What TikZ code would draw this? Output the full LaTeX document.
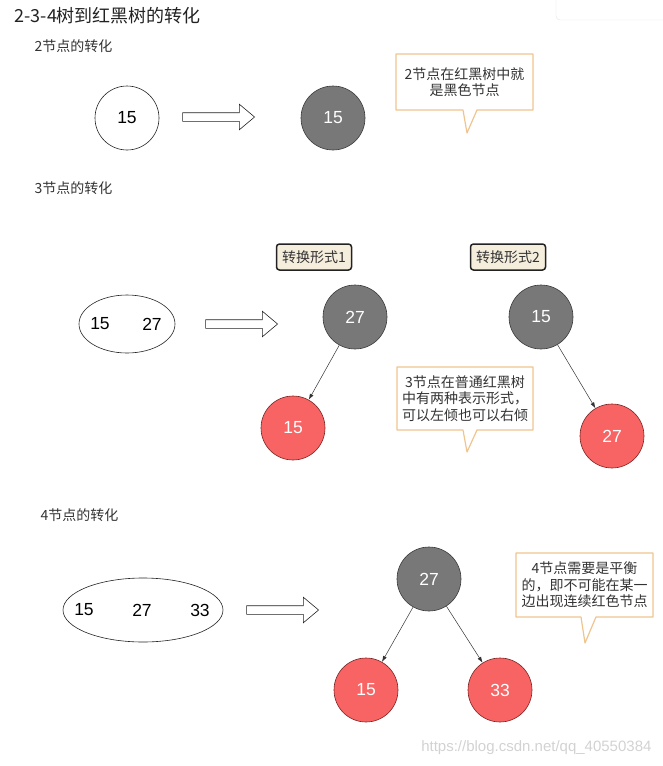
\documentclass[tikz,border=0pt]{standalone}
\usepackage{fontspec}
\setmainfont{Liberation Sans}
\newfontfamily\cjk{Noto Sans CJK SC}
\usetikzlibrary{positioning,shapes.geometric,shapes.arrows,arrows.meta}
\definecolor{ink}{HTML}{222222}
\definecolor{softink}{HTML}{333333}
\definecolor{blackfill}{HTML}{787878}
\definecolor{blackrim}{HTML}{3A3A3A}
\definecolor{redfill}{HTML}{F86363}
\definecolor{redrim}{HTML}{7A2424}
\definecolor{notebrd}{HTML}{F0C48E}
\definecolor{tagfill}{HTML}{F6EEDD}
\tikzset{
  keynode/.style={circle,draw=ink,line width=0.6pt,minimum size=64pt,inner sep=0pt,font=\fontsize{17.5}{20}\selectfont},
  blacknode/.style={keynode,draw=blackrim,fill=blackfill,text=white},
  rednode/.style={keynode,draw=redrim,fill=redfill,text=white},
  fatarrow/.style={single arrow,draw=ink,line width=0.6pt,minimum height=72pt,
    inner xsep=0pt,inner ysep=4pt,single arrow head extend=8.5pt,single arrow tip angle=80},
  link/.style={-{Latex[length=6pt,width=4pt]},draw=softink,line width=0.5pt},
  callout/.style={draw=notebrd,line width=1.2pt,fill=white,line join=round},
  notetext/.style={font=\cjk\fontsize{14}{16.5}\selectfont,text=softink,align=center},
  tagbox/.style={draw=ink,line width=1.5pt,fill=tagfill,rounded corners=3pt,minimum width=75pt,minimum height=26pt,
    font=\cjk\fontsize{14}{16}\selectfont,text=softink},
  heading/.style={anchor=west,font=\cjk\fontsize{14}{16}\selectfont,text=softink}
}
\begin{document}
\begin{tikzpicture}[x=1pt,y=-1pt]
  \useasboundingbox (0,0) rectangle (663,766);
  % browser popup cut off at the corner
  \draw[gray!20,fill=white,rounded corners=4pt] (556,-8) rectangle (672,20);
  % title
  \node[anchor=west,font=\cjk\fontsize{18}{20}\selectfont,text=ink] (title) at (11,16) {2-3-4树到红黑树的转化};
  % 2 node
  \node[heading] (headtwo) at (31,46) {2节点的转化};
  \node[keynode] (twokey) at (127,118) {15};
  \node[fatarrow] (twoarrow) at (216,117) {};
  \node[blacknode] (twoblack) at (333,118) {15};
  \draw[callout] (396,54) -- (533,54) -- (533,110) -- (477,110) -- (467,133) -- (463,110) -- (396,110) -- cycle;
  \node[notetext] (twonote) at (464.5,82) {2节点在红黑树中就\\是黑色节点};
  % 3 node
  \node[heading] (headthree) at (31,188) {3节点的转化};
  \node[ellipse,draw=ink,line width=0.6pt,minimum width=96pt,minimum height=58pt] (threekey) at (127,324) {};
  \node[font=\fontsize{17.5}{20}\selectfont] (threea) at (100,324) {15};
  \node[font=\fontsize{17.5}{20}\selectfont] (threeb) at (152,324) {27};
  \node[fatarrow] (threearrow) at (239,324) {};
  \node[tagbox] (formone) at (314,257) {转换形式1};
  \node[tagbox] (formtwo) at (508,257) {转换形式2};
  \node[blacknode] (leftroot) at (355,317) {27};
  \node[rednode] (leftchild) at (293,428) {15};
  \draw[link] (leftroot) -- (leftchild);
  \node[blacknode] (rightroot) at (541,317) {15};
  \node[rednode] (rightchild) at (612,436) {27};
  \draw[link] (rightroot) -- (rightchild);
  \draw[callout] (397,367) -- (533,367) -- (533,430) -- (477,430) -- (467,452) -- (463,430) -- (397,430) -- cycle;
  \node[notetext] (threenote) at (465,398.5) {3节点在普通红黑树\\中有两种表示形式，\\可以左倾也可以右倾};
  % 4 node
  \node[heading] (headfour) at (37,515) {4节点的转化};
  \node[ellipse,draw=ink,line width=0.6pt,minimum width=160pt,minimum height=64pt] (fourkey) at (143,610) {};
  \node[font=\fontsize{17.5}{20}\selectfont] (foura) at (84,610) {15};
  \node[font=\fontsize{17.5}{20}\selectfont] (fourb) at (142,610) {27};
  \node[font=\fontsize{17.5}{20}\selectfont] (fourc) at (200,610) {33};
  \node[fatarrow] (fourarrow) at (280,610) {};
  \node[blacknode] (fourroot) at (429,579) {27};
  \node[rednode] (fourleft) at (366,690) {15};
  \node[rednode] (fourright) at (500,690) {33};
  \draw[link] (fourroot) -- (fourleft);
  \draw[link] (fourroot) -- (fourright);
  \draw[callout] (516,553) -- (653,553) -- (653,617) -- (596,617) -- (585,643) -- (581,617) -- (516,617) -- cycle;
  \node[notetext] (fournote) at (584.5,585) {4节点需要是平衡\\的，即不可能在某一\\边出现连续红色节点};
  % watermark
  \node[anchor=east,font=\fontsize{15}{17}\selectfont,text=gray!35] (mark) at (655,748) {https://blog.csdn.net/qq\_40550384};
\end{tikzpicture}
\end{document}
